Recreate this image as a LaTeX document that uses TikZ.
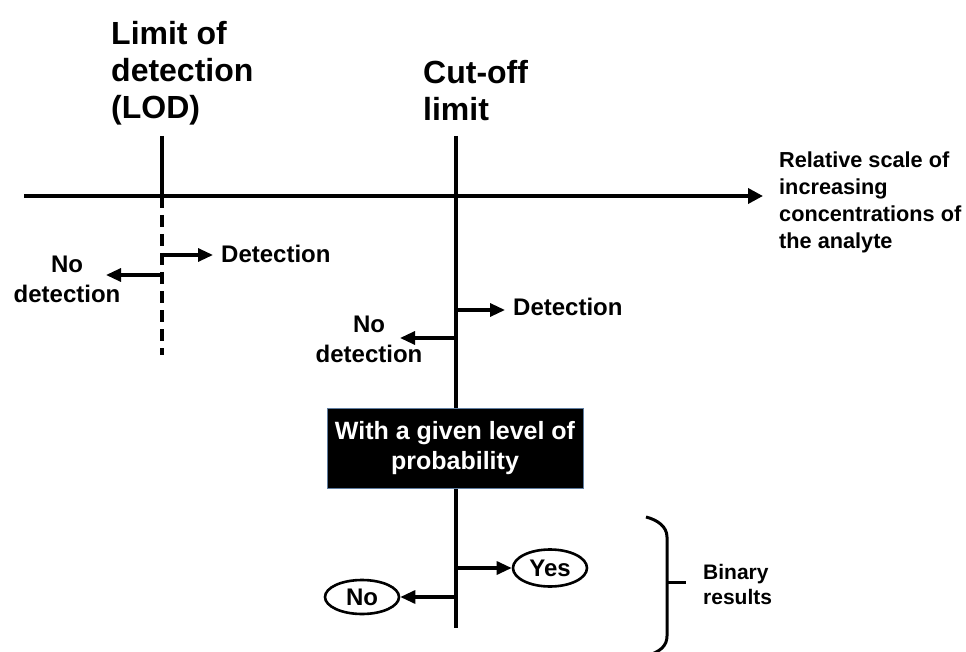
\documentclass[tikz,border=0pt]{standalone}
\usepackage{fontspec}
\setmainfont{Liberation Sans}
\usetikzlibrary{arrows.meta,shapes.geometric}
\tikzset{
  mainline/.style={line width=3.6pt},
  arr/.style={line width=3.2pt,-{Triangle[length=15pt,width=13pt]}},
  bigarr/.style={line width=3.6pt,-{Triangle[length=15pt,width=15pt]}},
  biglbl/.style={inner sep=0pt, anchor=north west, align=left, font=\bfseries\fontsize{32}{37}\selectfont},
  lbl/.style={inner sep=0pt, align=center, font=\bfseries\fontsize{24}{30}\selectfont},
  smalllbl/.style={inner sep=0pt, align=left, font=\bfseries\fontsize{21.7}{26.7}\selectfont},
  result/.style={ellipse, draw, line width=2.6pt, inner sep=0pt, minimum width=74pt, minimum height=37pt, font=\bfseries\fontsize{24}{30}\selectfont},
}
\definecolor{boxedge}{RGB}{95,125,160}
\begin{document}
\begin{tikzpicture}[x=1pt,y=-1pt]
\useasboundingbox (0,0) rectangle (966,652);
% coordinates
\coordinate (axL) at (24,196);
\coordinate (axR) at (763,196);
\coordinate (lodT) at (162,136);
\coordinate (lodM) at (162,196);
\coordinate (lodB) at (162,355);
\coordinate (cutT) at (456,136);
\coordinate (cutB) at (456,628);
\coordinate (lodD) at (162,255);
\coordinate (lodN) at (162,275);
\coordinate (cutD) at (456,310);
\coordinate (cutN) at (456,338);
\coordinate (yesS) at (456,568);
\coordinate (noS) at (456,597);
\coordinate (lodDtip) at (213,255);
\coordinate (lodNtip) at (106,275);
\coordinate (cutDtip) at (505,310);
\coordinate (cutNtip) at (400,338);
% headings
\node[biglbl] (lodlbl) at (111,21) {Limit of\\detection\\(LOD)};
\node[biglbl] (cutlbl) at (423,60) {Cut-off\\limit};
\node[smalllbl, anchor=north west] (scale) at (779,152) {Relative scale of\\increasing\\concentrations of\\the analyte};
% axis
\draw[bigarr] (axL) -- (axR);
% LOD line
\draw[mainline] (lodT) -- (lodM);
\draw[mainline, dash pattern=on 12pt off 7pt] (lodM) -- (lodB);
\draw[arr] (lodD) -- (lodDtip);
\draw[arr] (lodN) -- (lodNtip);
\node[lbl, anchor=base west] (lodDet) at (221,262) {Detection};
\node[lbl] (lodNo) at (67,279) {No\\detection};
% cut-off line
\draw[mainline] (cutT) -- (cutB);
\fill (456,196) circle (3pt);
\draw[arr] (cutD) -- (cutDtip);
\draw[arr] (cutN) -- (cutNtip);
\node[lbl, anchor=base west] (cutDet) at (513,316) {Detection};
\node[lbl] (cutNo) at (369,339) {No\\detection};
% probability box
\node[fill=black, draw=boxedge, line width=1pt, minimum width=256pt, minimum height=80pt, text=white, align=center, inner sep=0pt, font=\bfseries\fontsize{25}{30}\selectfont] (prob) at (455,448) {With a given level of\\probability};
% results
\node[result] (yes) at (550,568) {Yes};
\node[result, minimum height=34pt] (no) at (362,597) {No};
\draw[arr] (yesS) -- (yes.west);
\draw[arr] (noS) -- (no.east);
% brace
\coordinate (brT) at (646,517);
\coordinate (brTip) at (686,582);
\coordinate (brB) at (646,656);
\draw[line width=3pt] (brT) .. controls (658,520) and (667,527) .. (667,537) -- (667,636) .. controls (667,646) and (660,652) .. (brB);
\draw[line width=3pt] (667,582) -- (brTip);
\node[smalllbl, anchor=west, font=\bfseries\fontsize{21}{25}\selectfont] (binary) at (703,584) {Binary\\results};
\end{tikzpicture}
\end{document}
